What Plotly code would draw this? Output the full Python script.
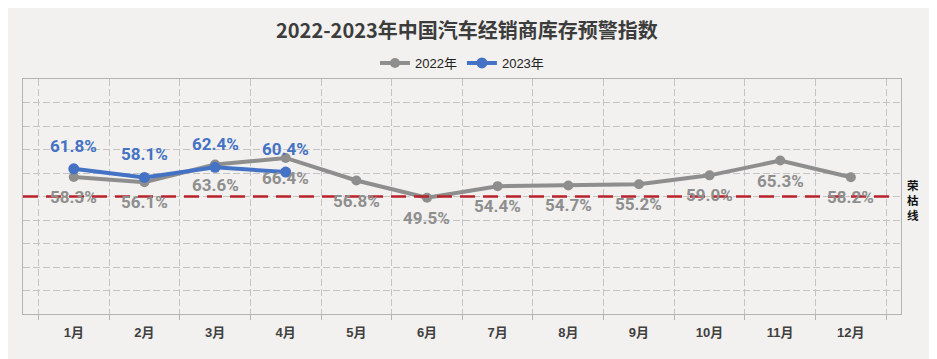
import plotly.graph_objects as go

months = ["1月", "2月", "3月", "4月", "5月", "6月", "7月", "8月", "9月", "10月", "11月", "12月"]
vals_2022 = [58.3, 56.1, 63.6, 66.4, 56.8, 49.5, 54.4, 54.7, 55.2, 59.0, 65.3, 58.2]
vals_2023 = [61.8, 58.1, 62.4, 60.4]
threshold = 50
threshold_label = "荣<br>枯<br>线"

GRAY = "#8e8e8e"
BLUE = "#4472C4"
RED = "#B8232B"
BG = "#f2f1ef"
LBL_FONT = "Roboto, Liberation Sans, sans-serif"
CJK = "Liberation Sans, Noto Sans CJK SC, sans-serif"

fig = go.Figure()
fig.add_trace(go.Scatter(
    x=months, y=vals_2022, name="2022年", mode="lines+markers",
    line=dict(color=GRAY, width=4), marker=dict(color=GRAY, size=10),
))
fig.add_trace(go.Scatter(
    x=months[:len(vals_2023)], y=vals_2023, name="2023年", mode="lines+markers",
    line=dict(color=BLUE, width=4), marker=dict(color=BLUE, size=11),
))

for m, v in zip(months, vals_2022):
    fig.add_annotation(x=m, y=v, text=f"{v:.1f}%", showarrow=False, yshift=-20,
                       font=dict(family=LBL_FONT, size=17, color=GRAY, weight="bold"))
for m, v in zip(months, vals_2023):
    fig.add_annotation(x=m, y=v, text=f"{v:.1f}%", showarrow=False, yshift=23,
                       font=dict(family=LBL_FONT, size=17, color=BLUE, weight="bold"))

fig.add_shape(type="line", xref="paper", yref="y", x0=0, x1=0.995, y0=threshold, y1=threshold,
              line=dict(color=RED, width=2.5, dash="15px,8px"), layer="above")

fig.add_annotation(x=1.0137, xref="paper", y=threshold, yref="y", text=threshold_label, showarrow=False,
                   yshift=-3.5, font=dict(family="Noto Sans CJK SC", size=11.5, color="#111111", weight="bold"),
                   xanchor="center", yanchor="middle")

fig.update_layout(
    width=929, height=351,
    margin=dict(l=15, r=36, t=71, b=45),
    paper_bgcolor=BG, plot_bgcolor=BG,
    title=dict(text="2022-2023年中国汽车经销商库存预警指数", x=0.494, xanchor="center", y=0.9345, yanchor="middle",
               font=dict(family="Noto Sans CJK SC, sans-serif", size=20, color="#3c3c3c", weight="bold")),
    legend=dict(orientation="h", x=0.5, xanchor="center", y=1.068, yanchor="middle",
                font=dict(family=CJK, size=13, color="#222222"), bgcolor="rgba(0,0,0,0)",
                itemwidth=30, traceorder="normal"),
    showlegend=True,
)
fig.update_xaxes(type="category", tickson="boundaries", showgrid=True, gridcolor="#c4c4c4", griddash="7px,3px",
                 gridwidth=1, ticks="outside", ticklen=5, tickcolor="#b4b4b4",
                 showline=True, linecolor="#b4b4b4", linewidth=1, mirror=True,
                 tickfont=dict(family=CJK, size=13, color="#404040", weight="bold"),
                 ticklabelstandoff=6, fixedrange=True)
fig.update_yaxes(range=[0, 100], dtick=10, showticklabels=False, showgrid=True, gridcolor="#c4c4c4",
                 griddash="7px,3px", gridwidth=1, zeroline=False,
                 showline=True, linecolor="#b4b4b4", linewidth=1, mirror=True, fixedrange=True)

fig.write_html("out.html")
